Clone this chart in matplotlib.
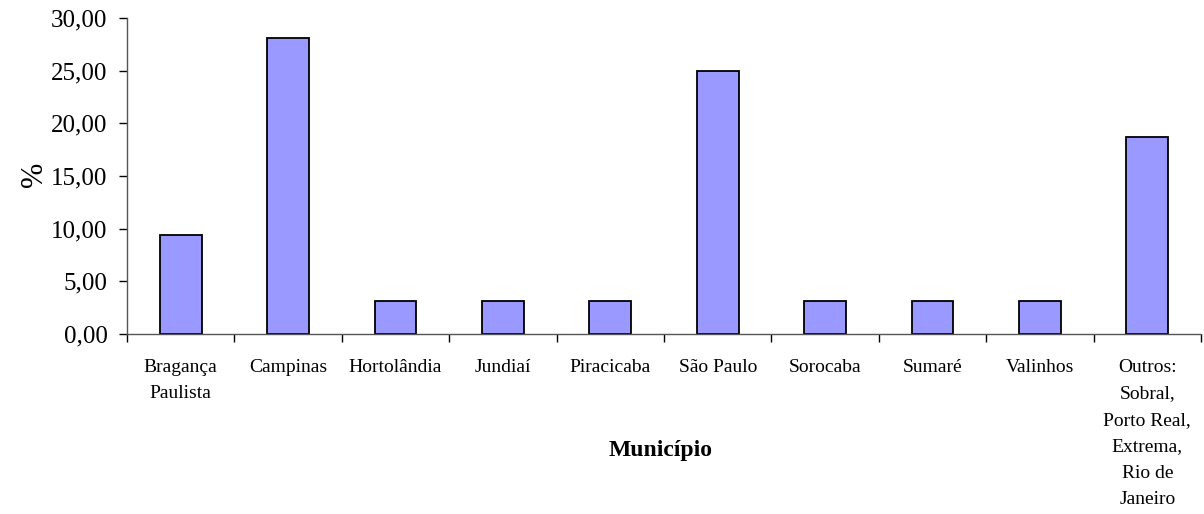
import matplotlib
matplotlib.use("Agg")
import matplotlib.pyplot as plt
from matplotlib.ticker import FixedLocator, FuncFormatter

municipios = ["Bragança\nPaulista", "Campinas", "Hortolândia", "Jundiaí", "Piracicaba",
              "São Paulo", "Sorocaba", "Sumaré", "Valinhos",
              "Outros:\nSobral,\nPorto Real,\nExtrema,\nRio de\nJaneiro"]
percentuais = [9.375, 28.125, 3.125, 3.125, 3.125, 25.0, 3.125, 3.125, 3.125, 18.75]
y_ticks = [0, 5, 10, 15, 20, 25, 30]

plt.rcParams["font.family"] = ["Liberation Serif", "DejaVu Serif"]

fig = plt.figure(figsize=(12.04, 5.14), dpi=100)
ax = fig.add_axes([0.1055, 0.350, 0.892, 0.615])

x = list(range(len(municipios)))
ax.bar(x, percentuais, width=0.39, color="#9999FF", edgecolor="black", linewidth=1.3)

ax.set_xlim(-0.5, len(municipios) - 0.5)
ax.set_ylim(0, 30)
ax.yaxis.set_major_locator(FixedLocator(y_ticks))
ax.yaxis.set_major_formatter(FuncFormatter(lambda v, p: f"{v:.2f}".replace(".", ",")))
ax.tick_params(axis="y", labelsize=18, length=6, width=1, direction="out", pad=8)

# category labels centered under bars, ticks on boundaries
ax.set_xticks([i - 0.5 for i in range(len(municipios) + 1)])
ax.set_xticklabels([])
ax.set_xticks(x, minor=True)
ax.set_xticklabels(municipios, minor=True, fontsize=14, linespacing=1.72, va="top")
ax.tick_params(axis="x", which="major", length=6, width=1, direction="out")
ax.tick_params(axis="x", which="minor", length=0, pad=18)

for side in ("top", "right"):
    ax.spines[side].set_visible(False)
for side in ("left", "bottom"):
    ax.spines[side].set_color("#555555")
    ax.spines[side].set_linewidth(1)

fig.text(0.029, 0.66, "%", fontsize=22, rotation=90, ha="center", va="center")
fig.text(0.549, 0.124, "Município", fontsize=17, fontweight="bold", ha="center", va="center")

fig.savefig("out.png", dpi=100)
